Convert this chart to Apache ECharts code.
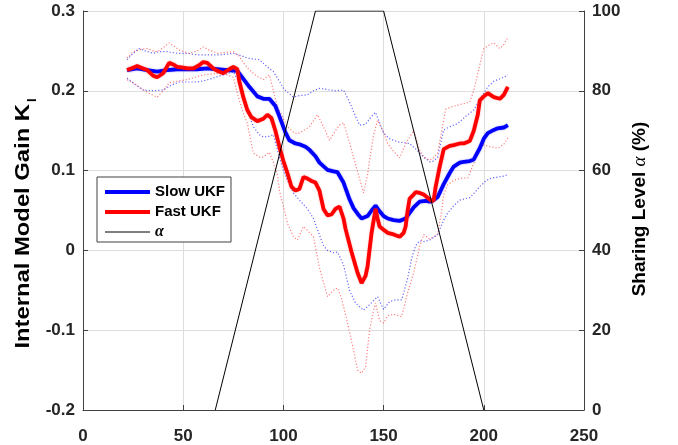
<!DOCTYPE html>
<html>
<head>
<meta charset="utf-8">
<script src="https://cdn.jsdelivr.net/npm/echarts@6/dist/echarts.min.js"></script>
<style>
html,body{margin:0;padding:0;background:#fff;}
#chart{width:678px;height:445px;}
</style>
</head>
<body>
<div id="chart"></div>
<script>
// ---- data (x = sample, y = gain) ----
const slowUKF = [[22,0.226],[27,0.228],[32,0.226],[37,0.224],[42,0.226],[47,0.227],[52,0.227],[57,0.227],[62,0.228],[67,0.227],[72,0.226],[77,0.225],[80,0.215],[83,0.205],[87,0.193],[90,0.190],[93,0.190],[96,0.181],[98,0.168],[101,0.148],[103,0.138],[106,0.134],[108,0.133],[111,0.130],[113,0.126],[116,0.118],[118,0.110],[122,0.101],[125,0.099],[127,0.098],[130,0.085],[133,0.064],[135,0.053],[137,0.046],[139,0.040],[142,0.043],[144,0.050],[146,0.056],[148,0.049],[150,0.043],[152,0.040],[155,0.038],[158,0.037],[161,0.040],[163,0.047],[165,0.054],[168,0.061],[171,0.062],[173,0.061],[175,0.063],[177,0.067],[180,0.083],[183,0.097],[185,0.105],[188,0.110],[190,0.111],[193,0.112],[195,0.114],[198,0.128],[200,0.140],[202,0.147],[205,0.151],[207,0.153],[210,0.154],[212,0.157]];

const fastUKF = [[22,0.226],[25,0.229],[27,0.231],[30,0.228],[32,0.226],[35,0.219],[37,0.217],[40,0.222],[43,0.235],[45,0.233],[47,0.230],[50,0.229],[52,0.228],[55,0.228],[58,0.232],[60,0.236],[62,0.235],[65,0.228],[67,0.225],[70,0.222],[73,0.227],[75,0.230],[77,0.227],[78,0.212],[80,0.192],[82,0.176],[84,0.167],[87,0.162],[90,0.165],[92,0.170],[94,0.166],[96,0.150],[98,0.130],[100,0.112],[102,0.097],[104,0.080],[106,0.075],[108,0.077],[110,0.092],[112,0.090],[114,0.087],[116,0.085],[118,0.075],[120,0.052],[122,0.044],[124,0.045],[126,0.052],[128,0.055],[130,0.040],[131,0.027],[134,-0.002],[137,-0.028],[139,-0.041],[141,-0.032],[142,-0.020],[144,0.022],[146,0.052],[147,0.040],[148,0.030],[150,0.026],[152,0.022],[155,0.020],[158,0.017],[160,0.022],[161,0.030],[162,0.050],[163,0.065],[165,0.070],[166,0.073],[168,0.072],[170,0.070],[172,0.066],[174,0.062],[175,0.063],[176,0.080],[178,0.105],[180,0.127],[183,0.131],[185,0.132],[188,0.134],[190,0.134],[193,0.137],[195,0.150],[197,0.170],[198,0.188],[200,0.193],[202,0.197],[205,0.192],[208,0.190],[210,0.195],[212,0.205]];

const slowUpper = [[22,0.239],[25,0.247],[28,0.253],[31,0.250],[35,0.247],[38,0.249],[42,0.249],[47,0.247],[52,0.247],[57,0.245],[62,0.245],[68,0.245],[72,0.246],[75,0.247],[79,0.244],[82,0.241],[85,0.240],[88,0.239],[91,0.232],[95,0.224],[98,0.212],[100,0.203],[103,0.196],[105,0.192],[108,0.194],[112,0.195],[115,0.200],[118,0.203],[121,0.202],[123,0.201],[126,0.200],[130,0.201],[133,0.186],[136,0.168],[138,0.157],[141,0.158],[144,0.168],[146,0.173],[148,0.160],[150,0.147],[153,0.140],[157,0.136],[160,0.135],[163,0.134],[166,0.127],[170,0.117],[173,0.111],[175,0.112],[177,0.117],[179,0.140],[180,0.151],[184,0.156],[187,0.159],[191,0.168],[195,0.176],[199,0.193],[202,0.205],[205,0.212],[207,0.214],[210,0.217],[212,0.220]];

const slowLower = [[22,0.216],[26,0.208],[30,0.201],[35,0.200],[40,0.201],[44,0.207],[48,0.211],[53,0.211],[57,0.211],[61,0.213],[65,0.216],[70,0.220],[75,0.224],[78,0.210],[80,0.192],[82,0.176],[85,0.155],[88,0.145],[90,0.142],[93,0.143],[95,0.145],[98,0.117],[100,0.100],[102,0.088],[105,0.072],[108,0.063],[112,0.052],[115,0.040],[117,0.026],[120,0.006],[122,0.000],[125,-0.003],[127,-0.002],[130,-0.018],[133,-0.050],[136,-0.066],[140,-0.075],[143,-0.068],[147,-0.058],[150,-0.074],[153,-0.064],[156,-0.062],[159,-0.062],[162,-0.035],[164,-0.010],[166,0.006],[168,0.012],[170,0.011],[173,0.013],[177,0.020],[180,0.038],[182,0.047],[185,0.056],[188,0.063],[191,0.065],[193,0.066],[196,0.074],[198,0.080],[201,0.087],[203,0.090],[207,0.092],[210,0.093],[212,0.095]];

const fastUpper = [[22,0.241],[25,0.249],[29,0.252],[32,0.253],[35,0.250],[37,0.249],[40,0.254],[43,0.260],[46,0.255],[48,0.251],[53,0.247],[57,0.250],[60,0.255],[63,0.251],[67,0.247],[71,0.248],[75,0.249],[78,0.243],[81,0.232],[83,0.226],[87,0.218],[90,0.214],[93,0.220],[95,0.200],[97,0.180],[100,0.165],[102,0.155],[105,0.148],[107,0.146],[110,0.150],[113,0.155],[117,0.170],[120,0.155],[123,0.138],[126,0.150],[128,0.157],[130,0.160],[133,0.135],[135,0.117],[138,0.090],[140,0.072],[142,0.095],[143,0.113],[145,0.145],[147,0.163],[150,0.148],[152,0.134],[155,0.124],[158,0.116],[160,0.128],[162,0.138],[165,0.150],[168,0.126],[170,0.117],[173,0.113],[175,0.116],[177,0.122],[179,0.150],[181,0.177],[184,0.180],[187,0.182],[190,0.184],[193,0.186],[195,0.200],[197,0.222],[200,0.253],[203,0.258],[205,0.260],[208,0.253],[210,0.258],[212,0.267]];

const fastLower = [[22,0.214],[25,0.210],[28,0.205],[32,0.198],[37,0.192],[40,0.200],[43,0.210],[47,0.212],[52,0.214],[56,0.217],[60,0.220],[64,0.221],[68,0.222],[72,0.220],[75,0.217],[78,0.188],[80,0.172],[82,0.159],[85,0.122],[88,0.117],[90,0.117],[93,0.123],[95,0.110],[97,0.095],[98,0.075],[100,0.055],[102,0.034],[105,0.017],[107,0.013],[110,0.030],[112,0.025],[115,0.017],[118,-0.022],[120,-0.040],[122,-0.058],[125,-0.050],[127,-0.047],[129,-0.060],[132,-0.091],[135,-0.125],[137,-0.150],[139,-0.154],[141,-0.146],[143,-0.100],[145,-0.075],[146,-0.066],[148,-0.088],[150,-0.091],[152,-0.082],[155,-0.080],[159,-0.083],[162,-0.053],[165,-0.028],[168,0.005],[170,0.020],[173,0.014],[177,0.020],[179,0.050],[180,0.070],[182,0.082],[185,0.088],[188,0.090],[192,0.091],[195,0.109],[198,0.132],[200,0.132],[203,0.130],[207,0.128],[210,0.133],[212,0.141]];

const alphaX = [66, 116, 150, 200];
const alphaY = [0, 100, 100, 0];

const xTicks = [0, 50, 100, 150, 200, 250];
const leftTicks = [-0.2, -0.1, 0, 0.1, 0.2, 0.3];
const rightTicks = [0, 20, 40, 60, 80, 100];

// ---- chart ----
const FONT = '"Liberation Sans", Arial, sans-serif';
const SERIF = '"Liberation Serif", "Times New Roman", serif';
const TXT = '#262626';
const AXIS = '#404040';
const GRIDC = '#dedede';

const chart = echarts.init(document.getElementById('chart'), null, {renderer: 'canvas'});

function dotted(name, data, color) {
  return {
    name: name, type: 'line', data: data, symbol: 'none', yAxisIndex: 0,
    lineStyle: {color: color, width: 1.2, type: [1.2, 2]}, z: 2, silent: true
  };
}

const hiddenSym = {color: 'rgba(0,0,0,0)', borderWidth: 0, opacity: 0};

const option = {
  animation: false,
  backgroundColor: '#fff',
  grid: {left: 83, right: 94, top: 11, bottom: 35, containLabel: false},
  xAxis: {
    type: 'value', min: xTicks[0], max: xTicks[xTicks.length - 1], interval: 50,
    axisLine: {show: true, onZero: false, lineStyle: {color: AXIS, width: 1}},
    axisTick: {show: true, inside: true, length: 5, lineStyle: {color: AXIS}},
    axisLabel: {color: TXT, fontFamily: FONT, fontWeight: 'bold', fontSize: 17, margin: 18},
    splitLine: {show: true, lineStyle: {color: GRIDC, width: 1}}
  },
  yAxis: [{
    type: 'value', min: leftTicks[0], max: leftTicks[leftTicks.length - 1], interval: 0.1,
    position: 'left',
    axisLine: {show: true, onZero: false, lineStyle: {color: AXIS, width: 1}},
    axisTick: {show: true, inside: true, length: 5, lineStyle: {color: AXIS}},
    axisLabel: {color: TXT, fontFamily: FONT, fontWeight: 'bold', fontSize: 17, margin: 8,
      formatter: v => String(Math.round(v * 10) / 10)},
    splitLine: {show: true, lineStyle: {color: GRIDC, width: 1}}
  }, {
    type: 'value', min: rightTicks[0], max: rightTicks[rightTicks.length - 1], interval: 20,
    position: 'right',
    axisLine: {show: true, onZero: false, lineStyle: {color: AXIS, width: 1}},
    axisTick: {show: true, inside: true, length: 5, lineStyle: {color: AXIS}},
    axisLabel: {color: TXT, fontFamily: FONT, fontWeight: 'bold', fontSize: 17, margin: 8},
    splitLine: {show: false}
  }],
  legend: {
    show: true, orient: 'vertical', left: 97, top: 177,
    data: [
      {name: 'Slow UKF', itemStyle: hiddenSym, lineStyle: {width: 4, color: '#0000ff'}},
      {name: 'Fast UKF', itemStyle: hiddenSym, lineStyle: {width: 4, color: '#ff0000'}},
      {name: 'α', itemStyle: hiddenSym, lineStyle: {width: 1, color: '#000'}}
    ],
    itemStyle: hiddenSym,
    backgroundColor: '#fff', borderColor: AXIS, borderWidth: 1, borderRadius: 0,
    padding: [5, 6, 0, 6], itemGap: 0, itemWidth: 45, itemHeight: 14,
    textStyle: {color: '#000', fontFamily: FONT, fontWeight: 'bold', fontSize: 15, lineHeight: 20,
      rich: {
        b: {fontFamily: FONT, fontWeight: 'bold', fontSize: 15, color: '#000', lineHeight: 20},
        g: {fontFamily: SERIF, fontStyle: 'italic', fontSize: 16, color: '#000', lineHeight: 20}
      }},
    formatter: n => n === 'α' ? '{g|α}' : '{b|' + n + '}'
  },
  graphic: [{
    type: 'text', x: 24, y: 104, rotation: Math.PI / 2, scaleX: 1.22, silent: true,
    style: {
      text: 'Internal Model Gain K', align: 'right', verticalAlign: 'middle',
      font: 'bold 19.5px ' + FONT, fill: '#000'
    }
  }, {
    type: 'text', x: 32, y: 102, rotation: Math.PI / 2, silent: true,
    style: {
      text: 'I', align: 'left', verticalAlign: 'middle',
      font: 'bold 13px ' + FONT, fill: '#000'
    }
  }, {
    type: 'text', x: 640, y: 209, rotation: Math.PI / 2, silent: true,
    style: {
      text: '{b|Sharing Level }{g|α}{b| (%)}', align: 'center', verticalAlign: 'middle',
      rich: {
        b: {fontFamily: FONT, fontWeight: 'bold', fontSize: 19, fill: '#000'},
        g: {fontFamily: SERIF, fontStyle: 'italic', fontSize: 19, fill: '#000'}
      }
    }
  }],
  series: [
    dotted('slowUpper', slowUpper, 'rgba(0,0,255,0.6)'),
    dotted('slowLower', slowLower, 'rgba(0,0,255,0.6)'),
    dotted('fastUpper', fastUpper, 'rgba(255,0,0,0.5)'),
    dotted('fastLower', fastLower, 'rgba(255,0,0,0.5)'),
    {
      name: 'Slow UKF', type: 'line', data: slowUKF, symbol: 'none', yAxisIndex: 0, z: 3,
      lineStyle: {color: '#0000ff', width: 3.8, shadowColor: 'rgba(0,0,255,0.35)', shadowBlur: 2},
      itemStyle: {color: '#0000ff'}
    },
    {
      name: 'Fast UKF', type: 'line', data: fastUKF, symbol: 'none', yAxisIndex: 0, z: 4,
      lineStyle: {color: '#ff0000', width: 3.8, shadowColor: 'rgba(255,0,0,0.35)', shadowBlur: 2},
      itemStyle: {color: '#ff0000'}
    },
    {
      name: 'α', type: 'line', data: alphaX.map((x, i) => [x, alphaY[i]]), symbol: 'none', yAxisIndex: 1, z: 5,
      lineStyle: {color: '#000', width: 1}, itemStyle: {color: '#000'}
    }
  ]
};

chart.setOption(option);
</script>
</body>
</html>
